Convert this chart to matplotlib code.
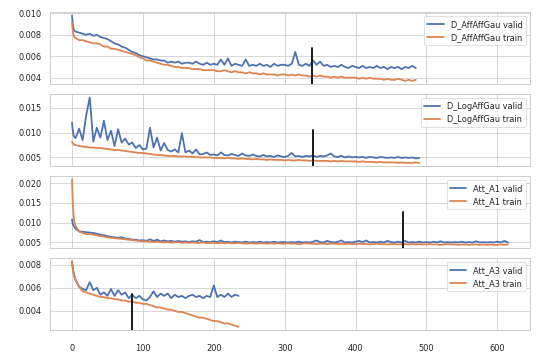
import numpy as np
import matplotlib
matplotlib.use("Agg")
import matplotlib.pyplot as plt
import seaborn as sns

# epochs: first few one by one, then every 5th epoch
ep_aff = [0, 1, 2, 3] + list(range(5, 490, 5))
ep_log = [0, 1, 2, 3] + list(range(5, 495, 5))
ep_a1 = [0, 1, 2, 3] + list(range(5, 620, 5))
ep_a3 = [0, 1, 2, 3] + list(range(5, 240, 5))

aff_valid = [
    0.0098, 0.0090, 0.0086, 0.0084,
    0.0083, 0.0082, 0.0081, 0.0080, 0.0081, 0.0079, 0.0080, 0.0078, 0.0077, 0.0076,
    0.0074, 0.0072, 0.0071, 0.0069, 0.0068, 0.0066, 0.0064, 0.0063, 0.0061, 0.0060,
    0.0059, 0.0058, 0.0057, 0.0057, 0.0056, 0.0056, 0.0054, 0.0055, 0.0054, 0.0055,
    0.0053, 0.0054, 0.0054, 0.0053, 0.0055, 0.0053, 0.0052, 0.0054, 0.0052, 0.0053,
    0.0052, 0.0057, 0.0052, 0.0058, 0.0051, 0.0053, 0.0052, 0.0051, 0.0057, 0.0051,
    0.0052, 0.0051, 0.0053, 0.0051, 0.0052, 0.0050, 0.0053, 0.0051, 0.0052, 0.0052,
    0.0051, 0.0053, 0.0064, 0.0052, 0.0051, 0.0053, 0.0051, 0.0056, 0.0052, 0.0055,
    0.0051, 0.0052, 0.0050, 0.0051, 0.0050, 0.0052, 0.0050, 0.0049, 0.0051, 0.0050,
    0.0049, 0.0051, 0.0049, 0.0050, 0.0049, 0.0051, 0.0049, 0.0050, 0.0048, 0.0050,
    0.0049, 0.0050, 0.0048, 0.0050, 0.0049, 0.0051, 0.0049,
]
aff_train = [
    0.0091, 0.0084, 0.0080, 0.0078,
    0.0077, 0.0075, 0.0075, 0.0074, 0.0073, 0.0072, 0.0072, 0.0071, 0.0069, 0.0069,
    0.0067, 0.0067, 0.0066, 0.0065, 0.0064, 0.0063, 0.0062, 0.0061, 0.0059, 0.0058,
    0.0056, 0.0056, 0.0055, 0.0054, 0.0053, 0.0052, 0.0052, 0.0051, 0.0050, 0.0050,
    0.0049, 0.0049, 0.0049, 0.0048, 0.0048, 0.0048, 0.0047, 0.0047, 0.0047, 0.0047,
    0.0046, 0.0046, 0.0047, 0.0046, 0.0045, 0.0046, 0.0045, 0.0045, 0.0044, 0.0045,
    0.0044, 0.0044, 0.0043, 0.0044, 0.0043, 0.0043, 0.0043, 0.0042, 0.0043, 0.0043,
    0.0042, 0.0043, 0.0042, 0.0043, 0.0042, 0.0042, 0.0041, 0.0042, 0.0041, 0.0042,
    0.0041, 0.0041, 0.0040, 0.0041, 0.0040, 0.0041, 0.0040, 0.0040, 0.0040, 0.0040,
    0.0039, 0.0040, 0.0039, 0.0040, 0.0039, 0.0039, 0.0039, 0.0038, 0.0039, 0.0038,
    0.0038, 0.0039, 0.0038, 0.0037, 0.0038, 0.0037, 0.0038,
]

log_valid = [
    0.0120, 0.0105, 0.0095, 0.0092,
    0.0089, 0.0108, 0.0085, 0.0135, 0.0171, 0.0082, 0.0110, 0.0090, 0.0124, 0.0085,
    0.0104, 0.0073, 0.0107, 0.0080, 0.0088, 0.0076, 0.0080, 0.0069, 0.0075, 0.0066,
    0.0068, 0.0110, 0.0070, 0.0090, 0.0064, 0.0079, 0.0065, 0.0062, 0.0066, 0.0060,
    0.0099, 0.0060, 0.0064, 0.0058, 0.0066, 0.0056, 0.0057, 0.0060, 0.0055, 0.0056,
    0.0054, 0.0060, 0.0055, 0.0054, 0.0057, 0.0055, 0.0053, 0.0058, 0.0054, 0.0053,
    0.0056, 0.0053, 0.0052, 0.0055, 0.0052, 0.0053, 0.0051, 0.0054, 0.0052, 0.0051,
    0.0053, 0.0059, 0.0052, 0.0053, 0.0051, 0.0053, 0.0052, 0.0054, 0.0051, 0.0053,
    0.0052, 0.0054, 0.0058, 0.0052, 0.0051, 0.0053, 0.0050, 0.0052, 0.0050, 0.0051,
    0.0050, 0.0051, 0.0049, 0.0051, 0.0050, 0.0049, 0.0051, 0.0050, 0.0049, 0.0050,
    0.0049, 0.0051, 0.0049, 0.0050, 0.0049, 0.0050, 0.0048, 0.0049,
]
log_train = [
    0.0081, 0.0078, 0.0077, 0.0076,
    0.0075, 0.0073, 0.0072, 0.0071, 0.0070, 0.0070, 0.0069, 0.0069, 0.0068, 0.0067,
    0.0066, 0.0065, 0.0065, 0.0064, 0.0063, 0.0062, 0.0061, 0.0060, 0.0059, 0.0059,
    0.0058, 0.0057, 0.0056, 0.0055, 0.0055, 0.0054, 0.0053, 0.0053, 0.0053, 0.0052,
    0.0052, 0.0052, 0.0051, 0.0051, 0.0051, 0.0050, 0.0050, 0.0050, 0.0050, 0.0049,
    0.0049, 0.0049, 0.0048, 0.0049, 0.0048, 0.0048, 0.0047, 0.0048, 0.0047, 0.0047,
    0.0046, 0.0047, 0.0046, 0.0046, 0.0045, 0.0046, 0.0045, 0.0045, 0.0045, 0.0044,
    0.0045, 0.0044, 0.0044, 0.0045, 0.0044, 0.0044, 0.0043, 0.0044, 0.0043, 0.0043,
    0.0043, 0.0043, 0.0042, 0.0043, 0.0042, 0.0043, 0.0042, 0.0042, 0.0042, 0.0042,
    0.0041, 0.0042, 0.0041, 0.0041, 0.0041, 0.0040, 0.0041, 0.0040, 0.0040, 0.0040,
    0.0040, 0.0039, 0.0040, 0.0039, 0.0039, 0.0039, 0.0040, 0.0039,
]

a1_valid = [
    0.0108, 0.0098, 0.0093, 0.0090,
    0.0085, 0.0078, 0.0077, 0.0076, 0.0075, 0.0074, 0.0072, 0.0070, 0.0068, 0.0066,
    0.0064, 0.0063, 0.0062, 0.0063, 0.0060, 0.0059, 0.0057, 0.0057, 0.0055, 0.0056,
    0.0054, 0.0058, 0.0054, 0.0057, 0.0053, 0.0055, 0.0053, 0.0054, 0.0052, 0.0054,
    0.0052, 0.0053, 0.0051, 0.0053, 0.0052, 0.0056, 0.0051, 0.0052, 0.0051, 0.0053,
    0.0051, 0.0055, 0.0051, 0.0052, 0.0050, 0.0052, 0.0051, 0.0050, 0.0052, 0.0050,
    0.0051, 0.0050, 0.0052, 0.0050, 0.0051, 0.0050, 0.0052, 0.0050, 0.0051, 0.0051,
    0.0050, 0.0051, 0.0050, 0.0052, 0.0050, 0.0051, 0.0050, 0.0052, 0.0055, 0.0051,
    0.0050, 0.0054, 0.0051, 0.0050, 0.0052, 0.0055, 0.0050, 0.0051, 0.0050, 0.0052,
    0.0054, 0.0051, 0.0055, 0.0050, 0.0051, 0.0050, 0.0052, 0.0050, 0.0054, 0.0051,
    0.0050, 0.0052, 0.0050, 0.0054, 0.0050, 0.0051, 0.0050, 0.0052, 0.0050, 0.0051,
    0.0050, 0.0052, 0.0050, 0.0053, 0.0050, 0.0051, 0.0050, 0.0051, 0.0050, 0.0052,
    0.0050, 0.0051, 0.0050, 0.0053, 0.0050, 0.0051, 0.0050, 0.0051, 0.0050, 0.0052,
    0.0050, 0.0054, 0.0050,
]
a1_train = [
    0.0209, 0.0150, 0.0125, 0.0105,
    0.0091, 0.0078, 0.0074, 0.0071, 0.0071, 0.0070, 0.0068, 0.0066, 0.0065, 0.0063,
    0.0062, 0.0061, 0.0060, 0.0059, 0.0058, 0.0057, 0.0056, 0.0055, 0.0054, 0.0053,
    0.0053, 0.0052, 0.0051, 0.0052, 0.0051, 0.0050, 0.0051, 0.0050, 0.0050, 0.0051,
    0.0049, 0.0050, 0.0049, 0.0050, 0.0049, 0.0049, 0.0050, 0.0048, 0.0049, 0.0049,
    0.0048, 0.0049, 0.0048, 0.0049, 0.0048, 0.0048, 0.0049, 0.0048, 0.0047, 0.0048,
    0.0048, 0.0047, 0.0048, 0.0048, 0.0047, 0.0048, 0.0047, 0.0048, 0.0047, 0.0047,
    0.0048, 0.0047, 0.0047, 0.0046, 0.0047, 0.0048, 0.0047, 0.0047, 0.0046, 0.0047,
    0.0047, 0.0046, 0.0047, 0.0047, 0.0046, 0.0047, 0.0046, 0.0047, 0.0046, 0.0046,
    0.0047, 0.0046, 0.0046, 0.0045, 0.0046, 0.0047, 0.0046, 0.0046, 0.0045, 0.0046,
    0.0046, 0.0045, 0.0046, 0.0046, 0.0045, 0.0046, 0.0045, 0.0046, 0.0045, 0.0045,
    0.0046, 0.0045, 0.0045, 0.0044, 0.0045, 0.0046, 0.0045, 0.0045, 0.0044, 0.0045,
    0.0045, 0.0044, 0.0045, 0.0045, 0.0044, 0.0045, 0.0044, 0.0045, 0.0044, 0.0044,
    0.0045, 0.0044, 0.0045,
]

a3_valid = [
    0.0083, 0.0078, 0.0074, 0.0071,
    0.0067, 0.0061, 0.0059, 0.0058, 0.0065, 0.0058, 0.0060, 0.0054, 0.0056, 0.0053,
    0.0059, 0.0053, 0.0058, 0.0054, 0.0056, 0.0051, 0.0054, 0.0051, 0.0053, 0.0050,
    0.0049, 0.0052, 0.0057, 0.0052, 0.0055, 0.0053, 0.0055, 0.0051, 0.0054, 0.0052,
    0.0053, 0.0051, 0.0053, 0.0054, 0.0052, 0.0053, 0.0051, 0.0053, 0.0052, 0.0062,
    0.0052, 0.0054, 0.0052, 0.0055, 0.0052, 0.0054, 0.0053,
]
a3_train = [
    0.0083, 0.0077, 0.0073, 0.0070,
    0.0067, 0.0061, 0.0057, 0.0056, 0.0055, 0.0054, 0.0053, 0.0052, 0.0052, 0.0051,
    0.0051, 0.0050, 0.0050, 0.0049, 0.0049, 0.0048, 0.0048, 0.0047, 0.0047, 0.0046,
    0.0046, 0.0045, 0.0044, 0.0043, 0.0043, 0.0042, 0.0041, 0.0041, 0.0040, 0.0039,
    0.0039, 0.0038, 0.0037, 0.0036, 0.0035, 0.0034, 0.0034, 0.0033, 0.0032, 0.0031,
    0.0031, 0.0030, 0.0029, 0.0029, 0.0028, 0.0027, 0.0026,
]

names = ["D_AffAffGau", "D_LogAffGau", "Att_A1", "Att_A3"]
best_epochs = [338, 340, 467, 84]


def main():
    sns.set_theme(style="whitegrid", palette="deep")

    runs = [
        (ep_aff, aff_valid, aff_train),
        (ep_log, log_valid, log_train),
        (ep_a1, a1_valid, a1_train),
        (ep_a3, a3_valid, a3_train),
    ]

    fig, axes = plt.subplots(4, 1, sharex=True, figsize=(10, 6.6667), dpi=54)
    for ax, name, (ep, valid, train), best in zip(axes, names, runs, best_epochs):
        ax.plot(ep, valid, lw=2.4, label=f"{name} valid")
        ax.plot(ep, train, lw=2.4, label=f"{name} train")
        ax.axvline(best, ymin=0, ymax=0.5, color="k", lw=2.6)
        ax.legend(loc="upper right")
        ax.tick_params(axis="y", pad=5)

    axes[-1].set_xticks([0, 100, 200, 300, 400, 500, 600])
    axes[-1].tick_params(axis="x", pad=12)
    fig.subplots_adjust(left=0.093, right=0.981, top=0.966, bottom=0.083, hspace=0.14)
    fig.savefig("out.png", dpi=54)


if __name__ == "__main__":
    main()
